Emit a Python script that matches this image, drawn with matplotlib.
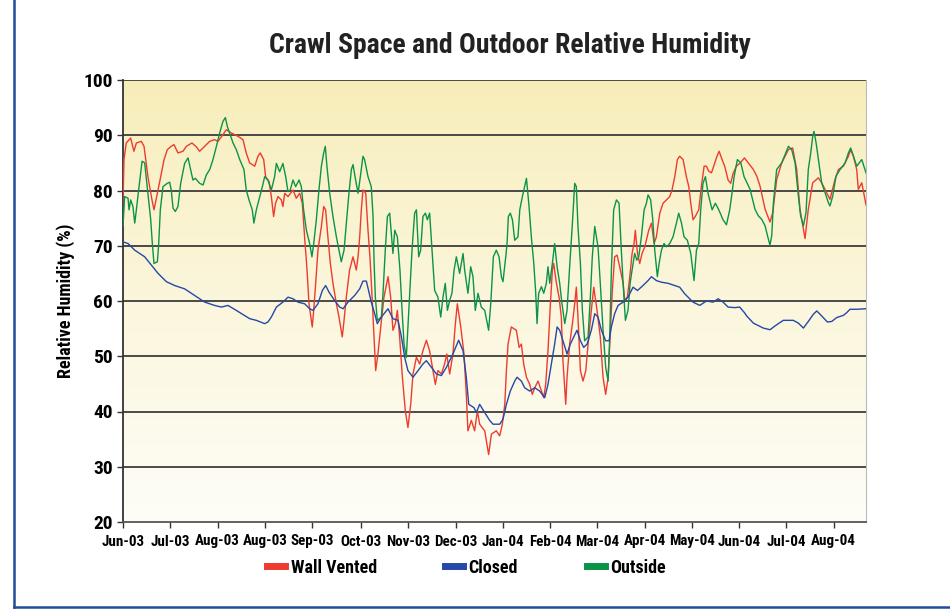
import numpy as np
import matplotlib
matplotlib.use("Agg")
import matplotlib.pyplot as plt
from matplotlib.lines import Line2D
from matplotlib import font_manager

names = {f.name for f in font_manager.fontManager.ttflist}
fams = [n for n in ['Liberation Sans Narrow', 'Roboto Condensed', 'Liberation Sans'] if n in names]
plt.rcParams['font.family'] = fams + ['DejaVu Sans']

# days since 1 Jun 2003, relative humidity (%)
wall_day = [0, 0.6, 2.0, 4.7, 6.7, 8.2, 11.2, 12.9, 15.3, 17.4, 19.0, 21.1, 23.1, 25.2, 27.2, 29.6,
            31.3, 33.7, 36.8, 38.9, 42.3, 45.0, 47.0, 50.1, 53.2, 56.2, 58.3, 61.3, 63.4, 66.5, 70.6,
            73.6, 75.6, 77.7, 80.8, 82.8, 84.2, 86.3, 87.5, 89.6, 91.0, 92.4, 93.6, 95.1, 97.1, 98.1,
            99.2, 101.2, 104.3, 106.3, 108.4, 110.0, 111.4, 112.9, 114.1, 115.5, 116.1, 117.0, 118.2,
            119.6, 121.7, 123.1, 124.3, 125.7, 127.2, 128.8, 130.9, 132.5, 133.5, 134.5, 135.4, 137.0,
            139.0, 141.1, 143.1, 144.2, 145.2, 146.2, 147.2, 148.9, 150.3, 151.5, 152.8, 154.0, 155.0,
            156.4, 158.1, 160.1, 162.6, 164.2, 165.6, 167.1, 168.3, 169.7, 171.4, 173.2, 174.8, 176.5,
            177.9, 180.0, 182.0, 184.0, 186.1, 188.1, 190.2, 191.6, 193.2, 195.3, 197.3, 198.6, 200.4,
            202.4, 203.9, 205.1, 207.2, 209.2, 210.6, 211.6, 213.7, 215.7, 217.4, 218.8, 221.9, 224.3,
            226.0, 229.0, 231.1, 232.7, 234.2, 235.2, 236.2, 238.2, 241.3, 243.0, 244.4, 245.8, 247.5,
            249.5, 251.1, 252.6, 254.6, 256.7, 258.1, 259.3, 260.7, 262.2, 263.4, 264.2, 265.9, 267.5,
            268.9, 269.9, 271.6, 272.4, 274.0, 275.7, 277.1, 278.1, 279.1, 280.6, 282.2, 283.9, 285.3,
            287.3, 288.8, 290.8, 292.8, 294.5, 296.1, 297.6, 299.0, 300.2, 301.6, 303.1, 304.7, 306.8,
            307.8, 309.4, 310.9, 312.3, 313.5, 314.3, 315.6, 317.0, 318.4, 320.1, 322.5, 324.2, 325.8,
            327.2, 329.3, 331.3, 333.4, 335.4, 336.8, 338.5, 340.1, 341.5, 343.6, 345.6, 347.1, 348.3,
            349.7, 351.1, 353.2, 354.8, 356.5, 357.9, 359.3, 361.0, 363.0, 364.4, 365.7, 367.5, 369.1,
            371.2, 372.8, 374.3, 376.3, 378.3, 380.4, 381.2, 386.7, 388.8, 390.8, 393.9, 396.9, 398.6,
            401.0, 404.1, 408.2, 410.8, 413.3, 415.3, 417.4, 418.4, 420.4, 423.1, 426.6, 428.6, 431.7,
            433.7, 436.8, 438.9, 441.9, 445.0, 446.4, 448.1, 450.1, 451.1, 453.2, 455.2, 455.8]
wall_rh = [77.7, 85.6, 88.6, 89.5, 87.1, 88.6, 88.9, 88.0, 82.5, 78.9, 76.5, 79.5, 82.5, 85.6, 87.4, 88.0,
           88.3, 86.8, 87.1, 88.0, 88.6, 87.9, 87.1, 88.0, 88.9, 89.2, 88.9, 90.1, 91.0, 90.4, 89.8,
           89.2, 86.8, 85.0, 84.4, 86.2, 86.8, 85.6, 82.5, 81.6, 78.9, 75.3, 77.7, 78.9, 78.3, 77.1,
           79.5, 78.9, 80.1, 78.6, 79.5, 77.7, 71.6, 65.6, 59.5, 56.5, 55.3, 58.3, 63.2,
           69.2, 73.5, 77.1, 76.5, 71.6, 66.8, 63.2, 59.5, 57.1, 55.3, 53.5, 55.9, 60.7,
           65.6, 68.0, 65.6, 68.0, 71.6, 76.5, 80.1, 79.5, 72.8, 68.0, 60.7, 53.5, 47.4,
           50.4, 55.3, 60.7, 64.4, 60.7, 54.7, 55.9, 58.3, 53.5, 46.2, 40.1, 37.1, 41.3,
           46.8, 49.8, 48.6, 51.0, 52.9, 51.0, 47.4, 44.9, 47.4, 46.8, 48.6, 50.4, 46.8,
           50.4, 55.9, 59.5, 55.3, 50.4, 43.1, 36.5, 38.4, 36.5, 40.1, 37.7, 36.5, 32.2,
           35.9, 36.5, 35.6, 37.7, 41.3, 47.4, 52.2, 55.3, 54.7, 51.6, 52.2, 48.6, 46.2,
           44.9, 43.1, 44.3, 45.5, 43.7, 42.5, 44.9, 50.9, 59.5, 65.6, 66.8, 63.2, 60.7,
           57.1, 49.2, 41.3, 46.2, 52.2, 55.9, 59.5, 62.5, 57.1, 47.4, 45.5, 47.4, 52.2,
           58.3, 62.5, 58.3, 53.5, 46.2, 43.1, 46.2, 54.7, 62.0, 68.0, 68.3, 66.2, 63.2,
           60.1, 60.7, 64.4, 68.6, 70.4, 72.8, 68.6, 66.8, 68.6, 69.8, 72.8, 74.1, 70.4,
           71.6, 75.9, 77.7, 78.3, 78.9, 80.1, 82.5, 85.6, 86.2, 85.6, 82.5, 80.7, 77.7,
           74.7, 75.3, 76.5, 80.7, 84.4, 84.4, 83.5, 83.2, 85.0, 86.2, 87.1, 85.6, 84.4,
           81.9, 81.3, 83.1, 84.4, 84.9, 85.6, 85.9, 83.8, 82.6, 80.8, 76.6, 74.3, 76.0,
           82.0, 85.0, 87.4, 87.7, 83.8, 76.6, 73.0, 71.3, 76.6, 81.4, 82.3, 81.4, 79.6,
           78.4, 82.0, 83.8, 84.4, 86.2, 87.4, 86.2, 83.8, 80.2, 81.4, 78.4, 77.4]

closed_day = [0, 3.1, 7.2, 13.3, 17.4, 21.5, 26.6, 31.7, 37.8, 44.0, 50.1, 56.2, 60.3, 64.4, 69.5, 75.5,
              77.7, 81.8, 86.9, 88.9, 91.0, 94.1, 98.1, 101.2, 104.3, 107.3, 111.4, 114.5, 116.5, 119.6,
              122.3, 124.3, 126.4, 129.8, 132.9, 135.0, 138.0, 142.1, 145.2, 147.2, 149.3, 150.9, 152.3,
              154.4, 156.0, 158.5, 162.6, 165.6, 168.7, 170.8, 172.8, 174.8, 177.9, 181.0, 184.0, 186.1,
              189.2, 192.2, 195.3, 198.4, 202.4, 205.9, 208.6, 210.6, 212.1, 215.3, 216.8, 218.8, 221.9,
              224.9, 227.0, 231.1, 233.1, 235.2, 237.6, 240.3, 241.7, 244.4, 246.4, 249.5, 252.6, 255.6,
              258.7, 260.7, 262.8, 264.8, 266.3, 267.9, 269.9, 272.4, 274.4, 276.5, 278.5, 280.6, 282.6,
              284.7, 287.3, 289.4, 291.4, 293.5, 296.1, 298.2, 299.6, 301.6, 303.7, 306.8, 309.8, 312.9,
              315.6, 319.0, 322.1, 324.2, 327.2, 330.3, 334.4, 338.5, 341.5, 344.6, 349.7, 353.8, 357.9,
              362.0, 365.1, 368.1, 371.2, 375.3, 378.3, 381.2, 382.6, 386.7, 392.8, 396.9, 401.0, 405.1,
              411.2, 414.3, 417.4, 420.4, 423.5, 425.6, 428.6, 432.1, 434.8, 437.8, 441.9, 444.0, 446.0,
              450.1, 455.8]
closed_rh = [70.7, 70.4, 69.2, 68.0, 66.5, 65.0, 63.5, 62.8, 62.2, 61.0, 59.8, 59.2, 58.9, 59.2, 58.3, 57.2,
             56.8, 56.5, 55.9, 56.2, 57.1, 58.9, 59.8, 60.7, 60.4, 59.8, 59.5, 58.6, 58.3, 59.5,
             61.9, 62.8, 61.6, 60.1, 58.9, 58.6, 59.8, 61.0, 62.2, 63.6, 63.6, 61.6, 59.8,
             57.7, 55.9, 57.1, 58.6, 56.8, 56.5, 53.5, 49.8, 47.4, 46.2, 47.4, 48.6, 49.2,
             48.0, 46.8, 46.5, 48.0, 50.4, 52.9, 51.0, 46.2, 41.3, 40.7, 39.8, 41.3, 39.8,
             38.4, 37.7, 37.7, 38.6, 41.3, 43.7, 45.5, 46.2, 45.5, 44.3, 43.7, 44.3, 43.7,
             42.5, 44.9, 48.6, 52.2, 55.3, 54.7, 52.8, 50.4, 52.2, 53.5, 54.7, 52.8, 51.6,
             52.2, 54.7, 57.7, 57.1, 54.7, 52.8, 52.8, 55.3, 57.7, 59.2, 59.8, 60.7, 62.5,
             61.9, 62.8, 63.7, 64.4, 63.7, 63.4, 63.2, 62.8, 62.5, 61.3, 59.8, 59.2, 60.0,
             59.8, 60.4, 59.8, 58.9, 58.8, 58.9, 57.9, 57.3, 56.0, 55.1, 54.8, 55.7, 56.5,
             56.5, 56.0, 55.1, 56.3, 57.6, 58.2, 57.3, 56.2, 56.3, 57.0, 57.4, 57.9, 58.5,
             58.5, 58.6]

out_day = [0, 1.0, 3.1, 3.7, 4.7, 6.1, 7.2, 8.2, 9.6, 11.7, 13.3, 15.3, 17.0, 18.0, 19.0, 21.1, 21.9,
           22.9, 24.5, 27.2, 28.6, 29.6, 30.7, 32.1, 33.7, 35.4, 37.8, 39.9, 41.5, 42.9, 44.4, 47.0,
           49.1, 51.1, 53.2, 55.2, 57.3, 59.3, 61.3, 62.8, 64.0, 65.4, 67.5, 69.5, 71.6, 74.2, 75.6,
           77.3, 79.3, 80.3, 81.8, 83.4, 85.5, 86.9, 88.9, 91.0, 93.0, 94.1, 96.1, 98.1, 99.8, 101.2,
           102.6, 104.3, 105.9, 108.0, 109.4, 110.8, 112.5, 114.5, 115.9, 117.0, 118.6, 120.2, 121.7,
           123.1, 124.1, 125.1, 126.8, 128.8, 130.9, 132.5, 133.9, 135.6, 137.0, 138.6, 140.1, 141.1,
           142.7, 144.2, 145.6, 147.2, 148.2, 150.3, 152.3, 153.4, 154.0, 154.8, 156.0, 158.5, 159.5,
           160.9, 162.2, 163.6, 164.6, 165.6, 166.7, 168.3, 169.9, 171.2, 172.4, 173.8, 174.8, 175.9,
           177.3, 178.9, 180.0, 181.4, 182.6, 184.0, 185.5, 186.7, 188.1, 189.6, 191.2, 193.2, 194.9,
           196.3, 197.7, 199.0, 200.4, 201.8, 203.1, 204.5, 206.5, 208.6, 209.6, 211.6, 213.3, 214.7,
           216.1, 217.8, 219.8, 221.9, 224.3, 225.6, 227.2, 229.0, 230.7, 232.1, 233.1, 234.8, 235.6,
           236.4, 237.6, 238.9, 240.3, 242.3, 243.4, 245.0, 246.4, 247.5, 249.1, 250.5, 252.0, 253.2,
           254.0, 255.0, 256.7, 258.1, 259.7, 260.7, 261.8, 263.4, 264.8, 266.3, 267.9, 269.3, 271.0,
           272.4, 274.0, 275.7, 277.1, 278.1, 279.1, 280.6, 281.8, 283.2, 285.3, 286.7, 287.9, 289.4,
           291.4, 292.8, 294.5, 296.1, 297.6, 298.6, 299.6, 301.0, 302.7, 304.3, 305.7, 306.8, 308.2,
           309.8, 311.1, 312.3, 313.9, 315.2, 316.4, 318.0, 319.7, 321.1, 322.1, 323.7, 325.0, 326.2,
           327.8, 328.9, 330.3, 331.9, 333.4, 335.4, 337.4, 339.5, 340.9, 342.6, 344.2, 346.2, 348.3,
           350.3, 351.8, 353.2, 354.4, 355.8, 357.3, 358.9, 361.4, 363.4, 365.5, 368.1, 370.2, 372.2,
           373.6, 374.9, 376.9, 379.0, 381.0, 384.7, 387.7, 389.8, 391.8, 393.9, 395.3, 396.9, 398.0,
           399.0, 401.0, 404.1, 408.2, 410.2, 412.3, 414.3, 415.7, 417.4, 419.0, 420.4, 421.9, 423.1,
           423.9, 425.2, 427.2, 428.6, 430.7, 432.7, 433.7, 435.4, 437.4, 439.9, 443.0, 445.0, 446.4,
           448.1, 450.1, 453.2, 455.2, 455.8]
out_rh = [73.5, 78.9, 78.6, 76.5, 78.3, 77.1, 74.1, 76.5, 80.1, 85.3, 85.0, 79.5, 74.7, 70.4, 66.8, 67.1, 70.4,
          76.5, 80.7, 81.3, 81.5, 80.1, 76.8, 76.2, 77.1, 81.3, 84.9, 85.9, 83.8, 81.9, 82.2, 81.3,
          81.0, 82.8, 83.8, 85.6, 88.0, 90.4, 92.5, 93.2, 91.6, 90.4, 88.6, 87.4, 85.6, 83.8, 80.1,
          78.3, 76.5, 74.1, 76.5, 78.3, 80.7, 82.5, 81.9, 80.1, 82.5, 84.9, 83.4, 84.9, 82.5, 79.8,
          80.1, 81.9, 80.7, 81.9, 80.7, 76.5, 72.8, 70.4, 68.0, 70.4, 74.7, 80.1, 84.4,
          86.8, 88.0, 84.4, 79.5, 75.3, 71.6, 69.2, 67.1, 69.2, 74.1, 79.5, 83.8, 84.7,
          81.9, 79.5, 82.5, 86.2, 85.6, 82.5, 80.7, 75.3, 67.4, 60.7, 56.5, 57.1, 61.4,
          69.2, 75.3, 75.9, 72.2, 68.6, 72.8, 71.6, 65.6, 58.3, 52.2, 49.8, 55.3, 61.4,
          69.2, 75.9, 76.5, 68.0, 69.2, 75.3, 75.9, 74.7, 75.9, 69.2, 61.9, 60.7, 57.1,
          60.7, 63.2, 58.3, 60.1, 61.4, 65.6, 68.0, 65.0, 68.6, 65.6, 61.4, 66.2, 64.4,
          58.3, 61.4, 58.9, 58.3, 54.7, 59.5, 68.0, 69.2, 68.0, 64.4, 63.5, 68.0, 70.4,
          75.3, 75.9, 74.7, 71.0, 71.6, 76.5, 78.9, 80.7, 82.2, 77.1, 71.6, 66.8, 61.4,
          55.9, 61.4, 62.6, 61.4, 63.2, 66.2, 63.2, 66.8, 70.4, 66.2, 63.2, 59.5, 55.9,
          58.3, 66.2, 74.1, 81.3, 80.7, 73.5, 66.8, 58.3, 52.8, 53.5, 60.7, 68.0, 73.5,
          69.8, 63.2, 54.7, 48.0, 45.5, 53.5, 65.6, 76.5, 78.3, 77.7, 69.2, 63.2, 56.5,
          58.3, 63.2, 65.6, 68.6, 67.4, 68.0, 71.6, 76.5, 77.7, 79.2, 78.3, 74.7, 69.2,
          64.4, 66.8, 69.2, 70.4, 69.8, 70.4, 71.6, 74.1, 75.9, 74.1, 71.6, 71.0, 68.6,
          63.7, 69.2, 70.4, 76.5, 81.3, 82.5, 79.5, 76.5, 77.7, 76.5, 74.7, 73.8, 76.5,
          79.5, 82.5, 85.6, 85.0, 82.5, 80.2, 76.6, 75.4, 74.8, 73.6, 71.9, 70.1, 71.9,
          77.8, 83.8, 85.0, 88.0, 87.4, 85.0, 79.0, 75.4, 73.6, 76.0, 83.8, 86.8, 89.8,
          90.7, 88.6, 84.4, 81.4, 79.6, 77.8, 77.2, 79.0, 82.6, 83.8, 85.0, 86.8, 87.7,
          86.2, 84.4, 85.6, 83.8, 83.2]

tick_days = [0, 29, 58, 87, 116, 146, 175, 204, 233, 262, 291, 320, 349, 378, 407, 436]
tick_labels = ['Jun-03', 'Jul-03', 'Aug-03', 'Aug-03', 'Sep-03', 'Oct-03', 'Nov-03', 'Dec-03',
               'Jan-04', 'Feb-04', 'Mar-04', 'Apr-04', 'May-04', 'Jun-04', 'Jul-04', 'Aug-04']

RED = '#EE3B2F'
BLUE = '#2449A6'
GREEN = '#0A9447'

fig = plt.figure(figsize=(9.5, 6.11), dpi=100)
ax = fig.add_axes([123 / 950, 1 - 522 / 611, (866 - 123) / 950, (522 - 80) / 611])

# yellow to white gradient behind the plot
grad = np.linspace(0, 1, 256).reshape(-1, 1)
top = np.array([247, 237, 183]) / 255
bot = np.array([254, 253, 247]) / 255
img = top + (bot - top) * grad[:, :, None] ** 0.8
ax.imshow(img, extent=[0, 455.8, 20, 100], aspect='auto', origin='upper', zorder=0)

for v in range(30, 101, 10):
    ax.axhline(v, color='#3c3c3c', lw=1.3, zorder=1)

ax.plot(wall_day, wall_rh, color=RED, lw=1.0, zorder=3)
ax.plot(closed_day, closed_rh, color=BLUE, lw=1.0, zorder=4)
ax.plot(out_day, out_rh, color=GREEN, lw=1.0, zorder=3)

ax.set_xlim(0, 455.8)
ax.set_ylim(20, 100)
ax.set_yticks(range(20, 101, 10))
ax.set_xticks(tick_days)
ax.set_xticklabels(tick_labels)
ax.tick_params(axis='both', direction='out', length=4, width=1, color='#333333')
ax.tick_params(axis='x', pad=5)
for lab in ax.get_yticklabels():
    lab.set_fontsize(14)
    lab.set_fontweight('bold')
for lab in ax.get_xticklabels():
    lab.set_fontsize(10.8)
    lab.set_fontweight('bold')
ax.spines['top'].set_visible(False)
ax.spines['right'].set_color('#bbbbbb')
ax.spines['left'].set_color('#333333')
ax.spines['left'].set_linewidth(1.3)
ax.spines['bottom'].set_color('#555555')
ax.spines['bottom'].set_linewidth(1.3)

ax.set_ylabel('Relative Humidity (%)', fontsize=13, fontweight='bold', labelpad=6)

fig.text(0.537, 0.926, 'Crawl Space and Outdoor Relative Humidity', ha='center', va='center',
         fontsize=20, fontweight='bold', color='#222222')

handles = [Line2D([], [], color=RED, lw=5), Line2D([], [], color=BLUE, lw=5),
           Line2D([], [], color=GREEN, lw=5)]
fig.legend(handles, ['Wall Vented', 'Closed', 'Outside'], loc='center', bbox_to_anchor=(0.491, 0.071),
           ncol=3, frameon=False, handlelength=1.0, handletextpad=0.3, columnspacing=3.8,
           prop={'weight': 'bold', 'size': 13})

# blue frame on the left and bottom edges
fig.add_artist(Line2D([14 / 950, 14 / 950], [1 - 607 / 611, 1.0], color='#1f4e96', lw=1.8))
fig.add_artist(Line2D([14 / 950, 1.0], [1 - 607 / 611, 1 - 607 / 611], color='#1f4e96', lw=1.8))

fig.savefig('out.png', dpi=100)
